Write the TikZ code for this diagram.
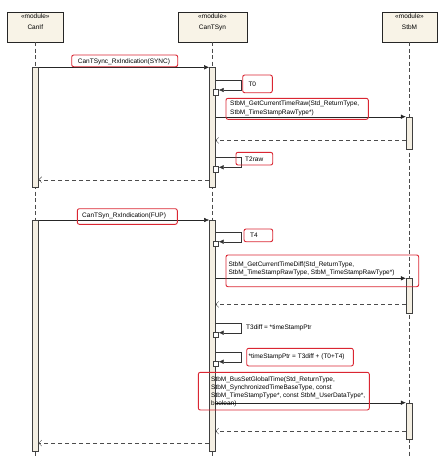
\documentclass[tikz,border=0pt]{standalone}
\usepackage{fontspec}
\setmainfont{Liberation Sans}
\usetikzlibrary{
  arrows.meta,
  positioning
}
\definecolor{headfill}{RGB}{248,243,231}
\definecolor{actfill}{RGB}{244,239,227}
\definecolor{hlred}{RGB}{218,38,50}
\definecolor{lifegray}{RGB}{75,75,75}
\tikzset{
  head/.style={draw=black!85, fill=headfill, minimum width=#1, minimum height=30pt,
    anchor=north, inner sep=0pt, align=center},
  lifeline/.style={draw=lifegray, dash pattern=on 4pt off 2.5pt},
  act/.style={draw=black!75, fill=actfill, minimum width=6pt, minimum height=#1,
    anchor=north, inner sep=0pt},
  subact/.style={draw=black!75, fill=white, minimum width=5.6pt, minimum height=5.6pt,
    anchor=north west, inner sep=0pt},
  msg/.style={draw=black!85, -{Latex[length=5pt,width=4.5pt]}},
  selfmsg/.style={draw=black!80, -{Latex[length=5pt,width=4.5pt]}},
  ret/.style={draw=black!70, dash pattern=on 4pt off 3pt, -{Straight Barb[length=3pt,width=6pt]}},
  hl/.style={draw=hlred, line width=0.9pt, rounded corners=2pt},
  txt/.style={anchor=west, inner sep=0pt, align=left}
}

\begin{document}
\begin{tikzpicture}[x=1pt,y=-1pt,font=\fontsize{6.5}{8}\selectfont]
  \useasboundingbox (0,0) rectangle (443,467);
  \node[head=56pt] (canif)  at (35.3,11.7)  {«module»\\[2.6pt]CanIf\\[2pt]\mbox{}};
  \node[head=69pt] (cantsyn) at (212.5,11.7) {«module»\\[2.6pt]CanTSyn\\[2pt]\mbox{}};
  \node[head=55pt] (stbm)   at (409.5,11.7) {«module»\\[2.6pt]StbM\\[2pt]\mbox{}};
  \foreach \h in {canif,cantsyn,stbm} {
    \coordinate (\h end) at (\h.south |- 0,458);
    \draw[lifeline] (\h.south) -- (\h end);
  }

  \node[act=120pt] (ifact1) at (35.3,67.3) {};
  \node[act=120pt] (tsact1) at (212.3,67.3) {};
  \node[act=231pt] (ifact2) at (35.3,220) {};
  \node[act=231pt] (tsact2) at (212.3,220) {};
  \node[act=32.6pt] (sbact1) at (409,116.7) {};
  \node[act=34.4pt] (sbact2) at (409,278.3) {};
  \node[act=36.6pt] (sbact3) at (409,402.7) {};

  % self calls on CanTSyn
  \foreach \n/\y/\a in {a/80/1, b/157.3/1, c/231.7/2, d/322.7/2, e/351.7/2} {
    \coordinate (sc\n) at (240.7,\y);
    \node[subact] (sub\n) at (212.7,\y+9) {};
    \draw[selfmsg] (tsact\a.east |- sc\n) -- (sc\n) |- ([yshift=-1pt]sub\n.north east);
  }

  \coordinate (r1) at ([yshift=9.3pt]sbact1.south west);
  \coordinate (r2) at ([yshift=8pt]tsact1.south west);
  \coordinate (r3) at ([yshift=8.7pt]sbact2.south west);
  \coordinate (r4) at ([yshift=8.6pt]sbact3.south west);
  \coordinate (r5) at ([yshift=8.3pt]tsact2.south west);

  \draw[msg] (ifact1.north east) -- (tsact1.north west);
  \draw[msg] (tsact1.east |- sbact1.north west) -- (sbact1.north west);
  \draw[ret] (r1) -- (r1 -| tsact1.east);
  \draw[ret] (r2) -- (r2 -| ifact1.east);
  \draw[msg] (ifact2.north east) -- (tsact2.north west);
  \draw[msg] (tsact2.east |- sbact2.north west) -- (sbact2.north west);
  \draw[ret] (r3) -- (r3 -| tsact2.east);
  \draw[msg] (tsact2.east |- sbact3.north west) -- (sbact3.north west);
  \draw[ret] (r4) -- (r4 -| tsact2.east);
  \draw[ret] (r5) -- (r5 -| ifact2.east);

  % message texts
  \node[txt] (tsync)  at (77.7,61.5)  {CanTSync\_RxIndication(SYNC)};
  \node[txt] (tzero)  at (248.3,84)   {T0};
  \node[txt] (traw)   at (230,108.8)  {StbM\_GetCurrentTimeRaw(Std\_ReturnType,\\[1pt]StbM\_TimeStampRawType*)};
  \node[txt] (ttwo)   at (245,159.5)  {T2raw};
  \node[txt] (tfup)   at (82,216)     {CanTSyn\_RxIndication(FUP)};
  \node[txt] (tfour)  at (250,235.7)  {T4};
  \node[txt] (tdiff)  at (228.3,268.6) {StbM\_GetCurrentTimeDiff(Std\_ReturnType,\\StbM\_TimeStampRawType, StbM\_TimeStampRawType*)};
  \node[txt] (tthree) at (246,328.3)  {T3diff = *timeStampPtr};
  \node[txt] (tptr)   at (248.3,356.5) {*timeStampPtr = T3diff + (T0+T4)};
  \node[txt] (tset)   at (211,391.5)  {StbM\_BusSetGlobalTime(Std\_ReturnType,\\StbM\_SynchronizedTimeBaseType, const\\StbM\_TimeStampType*, const StbM\_UserDataType*,\\boolean)};

  % highlight boxes
  \draw[hl] (71.7,55) rectangle (177.7,66.7);
  \draw[hl] (242.7,75) rectangle (272.3,92.7);
  \draw[hl] (226,98.3) rectangle (368.3,119.3);
  \draw[hl] (236,152.3) rectangle (272.7,165);
  \draw[hl] (77.3,208.7) rectangle (177.3,224.3);
  \draw[hl] (244,229) rectangle (272.7,241.7);
  \draw[hl] (226,255) rectangle (418.7,286.7);
  \draw[hl] (246.7,348.3) rectangle (353.3,366);
  \draw[hl] (198.3,372.3) rectangle (369.3,410);
\end{tikzpicture}
\end{document}
